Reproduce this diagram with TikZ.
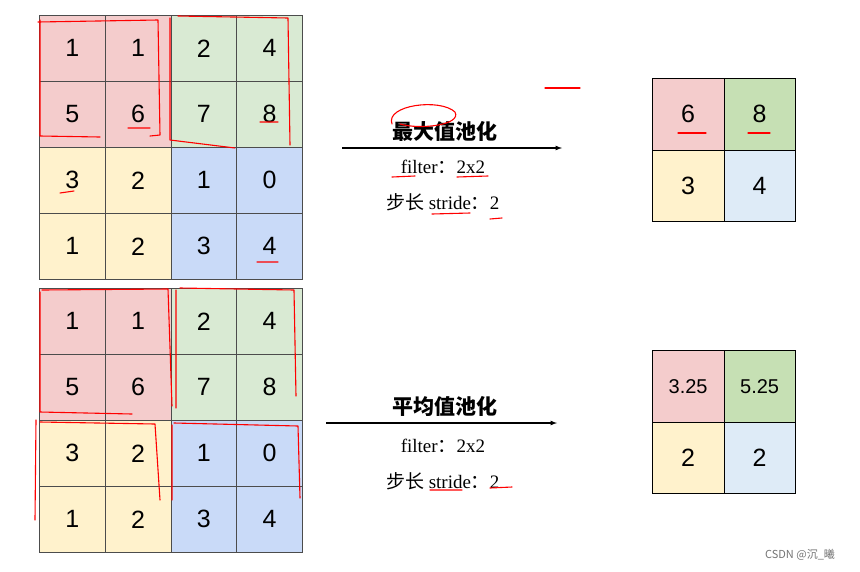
\documentclass[tikz,border=0pt]{standalone}
\usepackage{fontspec}
\setmainfont{Liberation Serif}
\newfontfamily\numf{Liberation Sans}
\newfontfamily\cjk{Noto Sans CJK SC}
\definecolor{pk}{HTML}{F4CCCC}
\definecolor{gr}{HTML}{D9EAD3}
\definecolor{ye}{HTML}{FFF2CC}
\definecolor{bl}{HTML}{C9DAF8}
\definecolor{gr2}{HTML}{C6E0B4}
\definecolor{bl2}{HTML}{DEEBF7}
\begin{document}
\begin{tikzpicture}[x=1pt,y=-1pt,
 cell/.style={draw=black!70,line width=0.6pt,minimum size=66pt,inner sep=0pt,anchor=north west,font=\numf\fontsize{25}{25}\selectfont},
 ocell/.style={draw=black,line width=0.8pt,minimum size=71.5pt,inner sep=0pt,anchor=north west,font=\numf\fontsize{25}{25}\selectfont},
 lbl/.style={font=\fontsize{19}{19}\selectfont},
 ttl/.style={font=\cjk\bfseries\fontsize{21}{21}\selectfont},
 arr/.style={-latex,line width=1.2pt},
 redink/.style={draw=red,line width=1.1pt,line cap=round,line join=round}]
\useasboundingbox (0,0) rectangle (860,571);
\foreach \oy/\p in {15/a,288/b}{
 \foreach \r/\c/\col/\v [count=\i] in {0/0/pk/1,0/1/pk/1,0/2/gr/2,0/3/gr/4,1/0/pk/5,1/1/pk/6,1/2/gr/7,1/3/gr/8,2/0/ye/3,2/1/ye/2,2/2/bl/1,2/3/bl/0,3/0/ye/1,3/1/ye/2,3/2/bl/3,3/3/bl/4}
  \node[cell,fill=\col] (\p\i) at (39+65.75*\c,\oy+66*\r) {\v};
}
\node[ocell,fill=pk] (o1) at (652,78) {6};
\node[ocell,fill=gr2] (o2) at (723.5,78) {8};
\node[ocell,fill=ye] (o3) at (652,149.5) {3};
\node[ocell,fill=bl2] (o4) at (723.5,149.5) {4};
\node[ocell,fill=pk,font=\numf\fontsize{20}{20}\selectfont] (p1) at (652,350) {3.25};
\node[ocell,fill=gr2,font=\numf\fontsize{20}{20}\selectfont] (p2) at (723.5,350) {5.25};
\node[ocell,fill=ye] (p3) at (652,421.5) {2};
\node[ocell,fill=bl2] (p4) at (723.5,421.5) {2};
\coordinate (s1) at (342,148); \coordinate (e1) at (562,148);
\draw[arr] (s1) -- (e1);
\node[ttl] (t1) at (445,131) {最大值池化};
\node[lbl] (f1) at (443,167) {filter\cjk：\rmfamily 2x2};
\node[lbl] (st1) at (443,202) {\cjk 步长 \rmfamily stride\cjk：\rmfamily 2};
\coordinate (s2) at (326,423); \coordinate (e2) at (557,423);
\draw[arr] (s2) -- (e2);
\node[ttl] (t2) at (445,406) {平均值池化};
\node[lbl] (f2) at (443,446) {filter\cjk：\rmfamily 2x2};
\node[lbl] (st2) at (443,481) {\cjk 步长 \rmfamily stride\cjk：\rmfamily 2};
\node[font=\cjk\fontsize{11}{11}\selectfont,text=black!55] (wm) at (800,555) {CSDN @沉\_曦};
% red annotations
\draw[redink] (40,20) -- (40,136) -- (100,137) (38,22) -- (158,20) -- (160,135) -- (150,136);
\draw[redink] (170,18) -- (170,140) -- (235,148) (178,16) -- (288,18) -- (290,145);
\draw[redink] (128,128)--(150,128) (260,122)--(278,122) (60,193)--(74,191) (257,262)--(278,262);
\draw[redink] (678,133)--(706,133) (748,133)--(770,133);
\draw[redink] (392,177)--(415,176) (457,177)--(488,176) (432,214)--(470,213) (490,219)--(502,218);
\draw[redink] (545,88)--(580,88);
\draw[redink] (392,124) .. controls (385,105) and (440,98) .. (455,112) .. controls (462,125) and (420,130) .. (400,124);
\draw[redink] (40,292) -- (40,412) -- (132,414) (42,290) -- (168,289) -- (172,406);
\draw[redink] (176,290) -- (176,408) (180,288) -- (294,290) -- (296,396);
\draw[redink] (36,420) -- (35,520) (40,422) -- (155,424) -- (160,500);
\draw[redink] (172,425) -- (172,500) (174,423) -- (298,426) -- (300,498);
\draw[redink] (430,490)--(462,490) (490,488)--(512,487);
\end{tikzpicture}
\end{document}
